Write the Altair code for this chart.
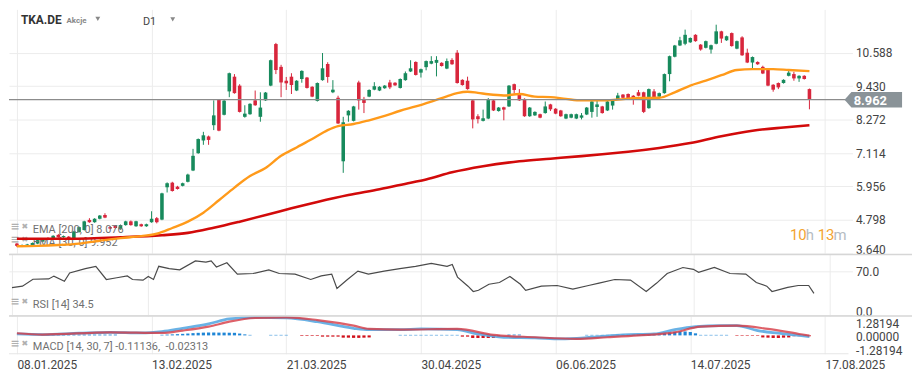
import altair as alt
import pandas as pd

# ---------------- data ----------------
opens = [3.98, 3.88, 3.90, 3.93, 3.98, 4.05, 4.17, 4.13, 4.28, 4.20,
         4.22, 4.12, 4.38, 4.45, 4.80, 4.72, 4.84, 4.97, 4.55, 4.60,
         4.48, 4.62, 4.75, 4.58, 4.65, 4.58, 4.72, 4.86, 4.81, 5.93,
         6.09, 5.95, 5.98, 6.12, 6.51, 7.11, 7.55, 7.69, 8.08, 8.96,
         8.44, 9.25, 9.76, 9.45, 8.37, 8.46, 8.94, 8.37, 8.94, 9.45,
         10.89, 10.10, 9.62, 9.76, 9.28, 9.68, 9.73, 9.41, 8.92, 9.64,
         10.20, 9.22, 9.03, 6.83, 8.42, 8.23, 9.56, 8.99, 9.07, 9.31,
         9.28, 9.36, 9.56, 9.55, 9.37, 9.64, 9.94, 10.27, 9.90, 10.09,
         10.21, 10.24, 10.24, 10.04, 10.34, 10.59, 9.65, 9.62, 8.94, 8.39,
         8.23, 8.31, 8.94, 8.57, 8.70, 8.73, 9.50, 9.19, 8.99, 8.39,
         8.42, 8.46, 8.50, 8.80, 8.65, 8.59, 8.31, 8.34, 8.31, 8.34,
         8.45, 8.54, 8.71, 8.73, 8.59, 8.76, 8.97, 9.14, 9.16, 9.10,
         9.22, 9.22, 8.67, 9.25, 9.07, 9.19, 9.85, 10.45, 10.84, 10.90,
         10.95, 11.21, 10.87, 10.76, 10.70, 10.90, 11.33, 11.02, 11.27, 10.73,
         11.12, 10.59, 10.25, 10.27, 10.10, 10.02, 9.48, 9.54, 9.54, 9.79,
         9.85, 9.70, 9.79, 9.33]
highs = [4.00, 3.95, 3.97, 4.02, 4.12, 4.17, 4.20, 4.27, 4.31, 4.26,
         4.24, 4.42, 4.57, 4.77, 4.86, 4.86, 4.97, 5.03, 4.58, 4.62,
         4.64, 4.77, 4.78, 4.77, 4.67, 4.67, 5.10, 4.90, 5.74, 6.10,
         6.12, 5.98, 6.09, 6.40, 7.26, 7.62, 7.85, 7.72, 8.94, 8.98,
         8.96, 9.90, 9.85, 9.50, 8.77, 8.84, 9.28, 9.22, 9.23, 10.35,
         10.93, 10.17, 9.75, 9.88, 9.64, 9.98, 9.75, 9.43, 9.56, 10.58,
         10.26, 9.64, 9.10, 8.37, 8.60, 8.75, 9.62, 9.06, 9.32, 9.57,
         9.43, 9.47, 9.65, 9.57, 9.70, 9.94, 10.33, 10.29, 10.04, 10.32,
         10.47, 10.47, 10.26, 10.39, 10.40, 10.68, 9.67, 9.76, 8.96, 8.46,
         8.62, 9.02, 8.96, 8.71, 8.72, 9.47, 9.52, 9.33, 9.01, 8.71,
         8.56, 8.48, 8.90, 8.82, 8.67, 8.61, 8.48, 8.48, 8.48, 8.50,
         8.71, 8.92, 8.94, 8.75, 8.92, 8.98, 9.20, 9.16, 9.18, 9.12,
         9.30, 9.24, 9.35, 9.33, 9.21, 9.87, 10.49, 10.86, 11.14, 11.39,
         11.12, 11.23, 10.89, 11.01, 10.87, 11.56, 11.35, 11.18, 11.29, 11.01,
         11.16, 10.73, 10.46, 10.29, 10.14, 10.04, 9.50, 9.56, 9.67, 9.96,
         9.93, 9.81, 9.81, 9.35]
lows = [3.86, 3.86, 3.88, 3.91, 3.96, 4.03, 4.10, 4.11, 4.18, 4.18,
        4.10, 4.10, 4.36, 4.43, 4.70, 4.70, 4.82, 4.86, 4.48, 4.50,
        4.46, 4.60, 4.60, 4.56, 4.56, 4.56, 4.70, 4.68, 4.79, 5.75,
        5.78, 5.85, 5.96, 6.10, 6.49, 7.09, 7.40, 7.40, 7.91, 7.87,
        8.42, 9.05, 9.17, 8.52, 8.34, 8.44, 8.75, 8.20, 8.92, 9.43,
        9.85, 9.05, 9.30, 9.16, 9.26, 9.55, 9.35, 9.05, 8.90, 9.62,
        9.55, 9.19, 8.12, 6.43, 8.20, 8.21, 8.62, 8.50, 9.05, 9.29,
        9.26, 9.34, 9.33, 9.44, 9.35, 9.62, 9.92, 9.80, 9.73, 9.98,
        10.19, 9.77, 10.11, 10.02, 10.17, 9.52, 9.45, 9.31, 7.97, 8.14,
        8.21, 8.29, 8.57, 8.55, 8.25, 8.71, 9.17, 8.92, 8.37, 8.37,
        8.40, 8.32, 8.48, 8.57, 8.46, 8.37, 8.29, 8.32, 8.29, 8.28,
        8.43, 8.34, 8.37, 8.48, 8.57, 8.62, 8.95, 9.01, 8.97, 8.79,
        9.08, 8.50, 8.65, 9.03, 9.05, 9.17, 9.60, 10.43, 10.82, 10.85,
        10.93, 10.97, 10.66, 10.74, 10.56, 10.88, 10.93, 11.00, 10.80, 10.71,
        10.48, 10.23, 10.06, 10.17, 9.85, 9.43, 9.24, 9.33, 9.52, 9.77,
        9.62, 9.58, 9.66, 8.63]
closes = [3.90, 3.93, 3.95, 4.00, 4.10, 4.15, 4.12, 4.25, 4.20, 4.24,
          4.12, 4.40, 4.55, 4.75, 4.72, 4.84, 4.95, 4.88, 4.50, 4.52,
          4.62, 4.75, 4.62, 4.75, 4.58, 4.65, 4.84, 4.72, 5.72, 6.07,
          5.80, 5.87, 6.07, 6.37, 7.02, 7.60, 7.73, 7.57, 8.42, 7.89,
          8.93, 9.88, 9.19, 8.54, 8.48, 8.82, 8.77, 8.69, 9.21, 10.33,
          9.99, 9.56, 9.53, 9.47, 9.62, 9.96, 9.37, 9.07, 9.54, 10.05,
          9.75, 9.31, 8.14, 8.18, 8.58, 8.73, 8.94, 8.85, 9.30, 9.43,
          9.41, 9.45, 9.39, 9.46, 9.68, 9.88, 10.05, 9.82, 10.02, 10.30,
          10.30, 10.34, 10.13, 10.30, 10.19, 9.54, 9.47, 9.33, 8.28, 8.29,
          8.32, 8.96, 8.59, 8.69, 8.62, 9.45, 9.30, 8.94, 8.39, 8.69,
          8.54, 8.34, 8.73, 8.63, 8.48, 8.39, 8.46, 8.46, 8.46, 8.42,
          8.69, 8.90, 8.80, 8.50, 8.90, 8.96, 9.11, 9.03, 9.01, 8.99,
          9.10, 8.54, 9.33, 9.05, 9.19, 9.85, 10.47, 10.84, 11.02, 11.21,
          11.10, 10.99, 10.70, 10.99, 10.85, 11.33, 11.08, 11.16, 10.82, 10.99,
          10.50, 10.25, 10.44, 10.19, 9.87, 9.45, 9.31, 9.39, 9.65, 9.90,
          9.70, 9.79, 9.68, 8.962]

ema30_idx = [0, 4, 8, 12, 16, 20, 24, 27, 30, 33, 36, 39, 42, 45, 48, 51, 54, 57, 60, 62,
             65, 68, 71, 74, 77, 80, 83, 85, 87, 89, 91, 94, 97, 100, 103, 106, 109, 113,
             116, 120, 124, 127, 130, 133, 136, 139, 142, 146, 149, 153]
ema30_val = [3.89, 3.90, 3.93, 3.98, 4.08, 4.17, 4.24, 4.32, 4.52, 4.74, 5.05, 5.48, 5.92,
             6.32, 6.60, 7.02, 7.31, 7.60, 7.91, 8.05, 8.12, 8.25, 8.40, 8.58, 8.73, 8.90,
             9.08, 9.19, 9.24, 9.20, 9.15, 9.11, 9.16, 9.07, 9.05, 8.99, 8.94, 8.94, 8.97,
             9.02, 9.03, 9.22, 9.45, 9.62, 9.81, 9.99, 10.02, 10.02, 9.99, 9.952]

ema200_idx = [0, 10, 20, 28, 33, 38, 43, 49, 53, 58, 64, 70, 76, 79, 84, 90, 97, 103,
              109, 115, 118, 124, 130, 136, 142, 148, 153]
ema200_val = [4.15, 4.15, 4.20, 4.27, 4.35, 4.53, 4.74, 5.01, 5.20, 5.42, 5.66, 5.86, 6.09,
              6.20, 6.45, 6.66, 6.83, 6.92, 7.01, 7.11, 7.16, 7.29, 7.46, 7.70, 7.89, 8.00, 8.076]

rsi_idx = [0, 2, 4, 7, 8, 10, 11, 14, 16, 18, 20, 22, 23, 25, 26, 27, 28, 30, 32, 35,
           37, 38, 39, 41, 43, 46, 49, 51, 54, 57, 59, 61, 62, 64, 66, 68, 71, 74, 77,
           80, 83, 84, 85, 87, 88, 89, 91, 93, 95, 97, 98, 101, 104, 107, 110, 112, 115,
           118, 121, 123, 125, 128, 130, 131, 134, 137, 140, 142, 144, 145, 148, 150, 152, 153]
rsi_val = [43.7, 46.0, 57.0, 57.5, 62.0, 53.7, 67.0, 73.8, 77.6, 56.6, 59.4, 62.3, 56.6,
           55.6, 61.4, 56.6, 77.6, 73.8, 71.9, 86.2, 84.3, 86.2, 76.6, 83.3, 65.2, 66.1,
           71.9, 66.1, 65.2, 56.6, 62.3, 65.2, 42.3, 56.6, 70.0, 65.2, 70.0, 73.8, 77.6,
           82.3, 77.6, 80.4, 60.4, 45.9, 37.5, 39.4, 49.0, 51.8, 61.4, 49.0, 39.4, 46.0,
           47.0, 41.3, 47.0, 50.9, 56.6, 55.6, 37.5, 50.9, 66.1, 75.7, 72.8, 68.0, 75.7,
           66.1, 65.2, 51.8, 46.0, 37.5, 44.0, 47.0, 47.0, 34.5]

macd_idx = [0, 5, 12, 18, 24, 28, 32, 37, 41, 46, 52, 58, 65, 68, 74, 78, 85, 89, 94,
            100, 105, 111, 117, 123, 127, 131, 136, 139, 143, 147, 153]
macd_val = [0.14, 0.08, 0.21, 0.30, 0.24, 0.37, 0.69, 1.11, 1.60, 1.75, 1.69, 1.33, 0.69,
            0.56, 0.56, 0.63, 0.56, 0.14, -0.18, -0.24, -0.34, -0.18, 0.05, 0.14, 0.56,
            0.85, 0.95, 0.95, 0.47, 0.21, -0.11136]
sig_idx = [0, 5, 18, 28, 32, 37, 41, 46, 52, 58, 65, 68, 74, 85, 92, 100, 108, 114, 120,
           127, 132, 139, 145, 151, 153]
sig_val = [0.21, 0.08, 0.30, 0.24, 0.47, 0.85, 1.33, 1.69, 1.75, 1.49, 0.95, 0.63, 0.56,
           0.63, 0.05, -0.18, -0.34, -0.18, 0.00, 0.30, 0.85, 0.95, 0.63, 0.14, -0.02313]

hist_val = [0.0, 0.0, 0.0, 0.0, 0.0, 0.0, 0.08, 0.08, 0.08, 0.08,
            0.08, 0.08, 0.08, 0.08, 0.08, 0.08, 0.08, 0.08, 0.08, 0.08,
            0.0, 0.0, 0.0, 0.0, 0.0, 0.0, 0.0, 0.0, 0.06, 0.08,
            0.10, 0.12, 0.15, 0.18, 0.22, 0.25, 0.27, 0.28, 0.28, 0.27,
            0.27, 0.26, 0.25, 0.18, 0.10, 0.05, 0.0, 0.0, 0.0, 0.05,
            0.05, 0.05, 0.05, 0.0, 0.0, -0.06, -0.06, -0.06, -0.06, -0.12,
            -0.12, -0.12, -0.12, -0.22, -0.22, -0.24, -0.24, -0.22, -0.20, 0.0,
            0.0, 0.0, 0.0, 0.0, 0.05, 0.05, 0.05, 0.05, 0.05, 0.05,
            0.05, 0.05, 0.05, 0.05, 0.05, 0.05, -0.12, -0.12, -0.25, -0.25,
            -0.25, -0.25, -0.25, -0.12, 0.0, 0.08, 0.08, 0.08, 0.0, 0.0,
            0.0, 0.0, 0.0, 0.0, 0.0, 0.0, 0.0, 0.0, 0.0, 0.0,
            0.05, 0.05, 0.05, 0.05, 0.05, 0.05, 0.10, 0.10, 0.10, 0.10,
            0.10, 0.10, 0.10, 0.10, 0.10, 0.20, 0.28, 0.35, 0.38, 0.38,
            0.33, 0.20, 0.05, 0.05, 0.05, 0.05, 0.05, 0.05, 0.0, -0.05,
            -0.05, -0.05, -0.05, -0.05, -0.20, -0.22, -0.25, -0.25, -0.22, -0.20,
            -0.08, -0.08, -0.08, -0.08]

tick_idx = [0, 26, 52, 78, 104, 130, 156]
tick_labels = ["08.01.2025", "13.02.2025", "21.03.2025", "30.04.2025",
               "06.06.2025", "14.07.2025", "17.08.2025"]
price_ticks = [3.640, 4.798, 5.956, 7.114, 8.272, 9.430, 10.588]
rsi_ticks = [0, 70]
macd_ticks = [-1.28194, 0.0, 1.28194]
macd_tick_labels = ["-1.28194", "0.00000", "1.28194"]
last_price = 8.962

# ---------------- styling ----------------
GREEN = "#178a5c"
RED = "#d8263c"
FONT = "Roboto"
W = 850

n = len(opens)
df = pd.DataFrame({"i": list(range(n)), "o": opens, "h": highs, "l": lows, "c": closes})
df["col"] = [GREEN if c >= o else RED for o, c in zip(opens, closes)]

xscale = alt.Scale(domain=[-0.57, 160.35], nice=False, zero=False)
label_expr = "[" + ",".join("'%s'" % t for t in tick_labels) + "][round(datum.value/26)]"
x_grid_axis = alt.Axis(values=tick_idx, labels=False, ticks=False, domain=False, grid=True,
                       gridColor="#ececec", title=None)
x_bottom_axis = alt.Axis(values=tick_idx, labelExpr=label_expr, ticks=False, domain=False,
                         grid=True, gridColor="#ececec", title=None, labelAlign="left",
                         labelFontSize=12, labelColor="#444", labelFont=FONT, labelPadding=6,
                         labelOverlap=False)


def X(axis):
    return alt.X("i:Q", scale=xscale, axis=axis)


yscale = alt.Scale(domain=[3.602, 12.09], nice=False, zero=False)
yaxis = alt.Axis(orient="right", values=price_ticks, format=".3f", grid=True,
                 gridColor="#ececec", ticks=False, domain=False, title=None,
                 labelFontSize=12, labelColor="#444", labelFont=FONT, labelPadding=3,
                 labelBaseline=alt.ConditionalAxisLabelBaseline(
                     condition={"test": "datum.value < 4", "value": "alphabetic"},
                     value="middle"))


def Y(field):
    return alt.Y(field, scale=yscale, axis=yaxis)


color = alt.Color("col:N", scale=None, legend=None)


def text(txt, x, y, size=11, col="#666", weight="normal", align="left", font=FONT):
    return alt.Chart(pd.DataFrame({"t": [txt]})).mark_text(
        align=align, baseline="middle", fontSize=size, color=col, fontWeight=weight, font=font
    ).encode(text="t:N", x=alt.value(x), y=alt.value(y))


def legend_row(txt, y):
    return [
        text("\u2261", 6, y - 3, size=11, col="#b0b0b0", weight="bold", align="center", font="DejaVu Sans"),
        text("\u2716", 16, y - 3, size=8, col="#b0b0b0", align="center", font="DejaVu Sans"),
        text(txt, 24, y, size=11, col="#707070"),
    ]


def triangle(x, y):
    return alt.Chart(pd.DataFrame({"a": [0]})).mark_point(
        shape="triangle-down", filled=True, size=24, color="#888", opacity=1).encode(
        x=alt.value(x), y=alt.value(y))


# ---------------- main pane ----------------
wicks = alt.Chart(df).mark_rule(strokeWidth=1).encode(x=X(x_grid_axis), y=Y("l:Q"), y2="h:Q", color=color)
bodies = alt.Chart(df).mark_bar(size=3.6).encode(x=X(x_grid_axis), y=Y("o:Q"), y2="c:Q", color=color)

ema30 = alt.Chart(pd.DataFrame({"i": ema30_idx, "v": ema30_val})).mark_line(
    color="#ff9a1a", strokeWidth=2.4, interpolate="monotone").encode(x=X(x_grid_axis), y=Y("v:Q"))
ema200 = alt.Chart(pd.DataFrame({"i": ema200_idx, "v": ema200_val})).mark_line(
    color="#d20a0a", strokeWidth=2.6, interpolate="monotone").encode(x=X(x_grid_axis), y=Y("v:Q"))

pdf = pd.DataFrame({"p": [last_price]})
price_line = alt.Chart(pdf).mark_rule(color="#8c8c8c", strokeWidth=1.3).encode(y=Y("p:Q"))
tag_path = "M -1 0 L -0.76 -0.27 L 1 -0.27 L 1 0.27 L -0.76 0.27 Z"
price_tag = alt.Chart(pdf).mark_point(shape=tag_path, size=3364, filled=True, opacity=1,
                                      color="#8a9398", strokeWidth=0).encode(
    x=alt.value(871), y=Y("p:Q"))
price_txt = alt.Chart(pdf).mark_text(color="white", fontWeight="bold", fontSize=13, font=FONT,
                                     align="center", baseline="middle", dy=1).encode(
    x=alt.value(868), y=Y("p:Q"), text=alt.Text("p:Q", format=".3f"))

header = [
    text("TKA.DE", 12, 11, size=12, col="#333", weight="bold"),
    text("Akcje", 58, 11.5, size=8, col="#888", weight="bold"),
    text("D1", 135, 12.5, size=11, col="#444"),
    triangle(89.5, 9.5),
    triangle(165.0, 10),
]
countdown = [
    text("10", 787, 227, size=15, col="#f3a430"),
    text("h", 803, 227, size=15, col="#b5bcc2"),
    text("13", 815, 227, size=15, col="#f3a430"),
    text("m", 831, 227, size=15, col="#b5bcc2"),
]

main = alt.layer(wicks, bodies,
                 *legend_row("EMA [200, 0] 8.076", 222), *legend_row("EMA [30, 0] 9.952", 235),
                 ema200, ema30, price_line, price_tag, price_txt,
                 *header, *countdown).properties(width=W, height=247)

# ---------------- RSI pane ----------------
rsi_scale = alt.Scale(domain=[-1.6, 96.4], nice=False, zero=False)
rsi_axis = alt.Axis(orient="right", values=rsi_ticks, format=".1f", grid=True, gridColor="#ececec",
                    ticks=False, domain=False, title=None, labelFontSize=12, labelColor="#444",
                    labelFont=FONT, labelPadding=3,
                    labelBaseline=alt.ConditionalAxisLabelBaseline(
                        condition={"test": "datum.value < 1", "value": "alphabetic"},
                        value="middle"))
rsi_line = alt.Chart(pd.DataFrame({"i": rsi_idx, "v": rsi_val})).mark_line(
    color="#4a4a4a", strokeWidth=1.2).encode(x=X(x_grid_axis), y=alt.Y("v:Q", scale=rsi_scale, axis=rsi_axis))
sep1 = alt.Chart(pd.DataFrame({"a": [0]})).mark_rule(color="#d6d6d6", strokeWidth=1.6).encode(
    x=alt.value(0), x2=alt.value(910), y=alt.value(0))
rsi = alt.layer(rsi_line, sep1, *legend_row("RSI [14] 34.5", 51)).properties(width=W, height=62)

# ---------------- MACD pane ----------------
macd_scale = alt.Scale(domain=[-1.78, 1.88], nice=False, zero=False)
macd_label_expr = ("datum.value < -1 ? '%s' : (datum.value > 1 ? '%s' : '%s')"
                   % (macd_tick_labels[0], macd_tick_labels[2], macd_tick_labels[1]))
macd_axis = alt.Axis(orient="right", values=macd_ticks, labelExpr=macd_label_expr, grid=False,
                     ticks=False, domain=False, title=None, labelFontSize=12, labelColor="#444",
                     labelFont=FONT, labelPadding=3, labelBaseline="middle", labelOffset=1.5)
hdf = pd.DataFrame({"i": list(range(n)), "h": hist_val})
hdf["z"] = 0.0
hdf["col"] = ["#1f86d6" if v >= 0 else "#d0101a" for v in hist_val]
hist = alt.Chart(hdf).transform_filter("datum.h != 0").mark_bar(size=3.2).encode(
    x=X(x_bottom_axis), y=alt.Y("h:Q", scale=macd_scale, axis=macd_axis), y2="z:Q",
    color=alt.Color("col:N", scale=None, legend=None))
macd_line = alt.Chart(pd.DataFrame({"i": macd_idx, "v": macd_val})).mark_line(
    color="#5aaae2", strokeWidth=2.8, opacity=0.9, interpolate="monotone").encode(
    x=X(x_bottom_axis), y=alt.Y("v:Q", scale=macd_scale, axis=macd_axis))
sig_line = alt.Chart(pd.DataFrame({"i": sig_idx, "v": sig_val})).mark_line(
    color="#d63a44", strokeWidth=2.2, opacity=0.8, interpolate="monotone").encode(
    x=X(x_bottom_axis), y=alt.Y("v:Q", scale=macd_scale, axis=macd_axis))
sep2 = alt.Chart(pd.DataFrame({"a": [0]})).mark_rule(color="#d6d6d6", strokeWidth=1.6).encode(
    x=alt.value(0), x2=alt.value(910), y=alt.value(0))
sep3 = alt.Chart(pd.DataFrame({"a": [0]})).mark_rule(color="#e6e6e6", strokeWidth=1.2).encode(
    x=alt.value(0), x2=alt.value(846), y=alt.value(38))
macd = alt.layer(hist, macd_line, sig_line, sep2, sep3,
                 *legend_row("MACD [14, 30, 7] -0.11136, \u00a0-0.02313", 31)).properties(width=W, height=38)

chart = alt.vconcat(main, rsi, macd, spacing=0, bounds="flush").properties(
    padding=0, background="white").configure_view(stroke=None)

chart.save("out.html", embed_options={"renderer": "svg", "actions": False})
